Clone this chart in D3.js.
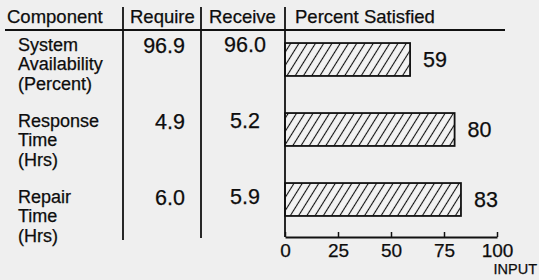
<!DOCTYPE html>
<html lang="en">
<head>
    <meta charset="UTF-8">
    <title>Percent Satisfied</title>
    <script src="https://d3js.org/d3.v7.min.js"></script>
    <style>
        html, body {
            margin: 0;
            padding: 0;
            background: #efefef;
            overflow: hidden;
        }
        svg text {
            font-family: "Liberation Sans", Arial, Helvetica, sans-serif;
            fill: #0d0d0d;
            stroke: #0d0d0d;
            stroke-width: 0.25px;
        }
        .rule {
            stroke: #111;
            stroke-width: 1.8;
        }
    </style>
</head>
<body>
    <svg width="539" height="280"></svg>
    <script>
        // chart data
        const components = ["System Availability", "Response Time", "Repair Time"];
        const labelLines = [["System", "Availability", "(Percent)"], ["Response", "Time", "(Hrs)"], ["Repair", "Time", "(Hrs)"]];
        const required = ["96.9", "4.9", "6.0"];
        const received = ["96.0", "5.2", "5.9"];
        const satisfied = [59, 80, 83];
        const xTicks = [0, 25, 50, 75, 100];
        const headers = ["Component", "Require", "Receive", "Percent Satisfied"];

        const svg = d3.select("svg");

        const x = d3.scaleLinear().domain([0, 100]).range([285, 497]);
        const y = d3.scaleBand().domain(components).range([24.5, 234.5])
            .paddingInner(0.53).paddingOuter(0.265);
        // baselines for the table text rows
        const rowY = d3.scalePoint().domain(components).range([51.5, 203.5]);

        // hatch pattern
        const defs = svg.append("defs");
        const pat = defs.append("pattern")
            .attr("id", "hatch")
            .attr("patternUnits", "userSpaceOnUse")
            .attr("width", 7).attr("height", 10)
            .attr("patternTransform", "rotate(32)");
        pat.append("rect").attr("width", 7).attr("height", 10).attr("fill", "#f3f3f3");
        pat.append("line")
            .attr("x1", 3.5).attr("y1", 0).attr("x2", 3.5).attr("y2", 10)
            .attr("stroke", "#111").attr("stroke-width", 1.1);

        // header
        const headerX = [7, 130, 209, 295];
        svg.selectAll(".hdr")
            .data(headers)
            .enter().append("text")
            .attr("class", "hdr")
            .attr("x", (d, i) => headerX[i])
            .attr("y", 23)
            .attr("font-size", "18.5px")
            .text(d => d);

        svg.append("line").attr("class", "rule")
            .attr("x1", 5).attr("x2", 505).attr("y1", 30).attr("y2", 30);

        // column dividers
        svg.append("line").attr("class", "rule")
            .attr("x1", 123).attr("x2", 123).attr("y1", 7).attr("y2", 240);
        svg.append("line").attr("class", "rule")
            .attr("x1", 201).attr("x2", 201).attr("y1", 7).attr("y2", 238);

        // row labels
        const rows = svg.selectAll(".row")
            .data(components)
            .enter().append("g")
            .attr("class", "row");

        rows.each(function(c, i) {
            const g = d3.select(this);
            labelLines[i].forEach((line, j) => {
                g.append("text")
                    .attr("x", 18)
                    .attr("y", rowY(c) - 1 + j * 19.5)
                    .attr("font-size", "18px")
                    .text(line);
            });
        });

        rows.append("text")
            .attr("x", 185)
            .attr("y", c => rowY(c) + 1)
            .attr("text-anchor", "end")
            .attr("font-size", "21.5px")
            .text((c, i) => required[i]);

        rows.append("text")
            .attr("x", 245)
            .attr("y", c => rowY(c) + 0.5)
            .attr("text-anchor", "middle")
            .attr("font-size", "21.5px")
            .text((c, i) => received[i]);

        // bars
        svg.selectAll(".bar")
            .data(components)
            .enter().append("rect")
            .attr("class", "bar")
            .attr("x", x(0))
            .attr("y", c => y(c))
            .attr("width", (c, i) => x(satisfied[i]) - x(0))
            .attr("height", y.bandwidth())
            .attr("fill", "url(#hatch)")
            .attr("stroke", "#111")
            .attr("stroke-width", 1.8);

        svg.selectAll(".val")
            .data(components)
            .enter().append("text")
            .attr("class", "val")
            .attr("x", (c, i) => x(satisfied[i]) + 13)
            .attr("y", c => y(c) + y.bandwidth() / 2 + 7.5)
            .attr("font-size", "21.5px")
            .text((c, i) => satisfied[i]);

        // axis
        const axisY = 237;
        svg.append("line").attr("class", "rule")
            .attr("x1", x(0)).attr("x2", x(0)).attr("y1", 7).attr("y2", axisY);

        const axis = svg.append("g")
            .attr("transform", `translate(0,${axisY})`)
            .call(d3.axisBottom(x).tickValues(xTicks).tickSize(-5).tickPadding(10).tickSizeOuter(0));
        axis.select(".domain").attr("stroke", "#111").attr("stroke-width", 1.8);
        axis.selectAll(".tick line").attr("stroke", "#111").attr("stroke-width", 1.5);
        axis.selectAll(".tick text")
            .attr("font-size", "19px")
            .attr("font-family", "Liberation Sans, Arial, sans-serif")
            .attr("y", 19.5)
            .attr("dy", 0);

        svg.append("text")
            .attr("x", 537)
            .attr("y", 274)
            .attr("text-anchor", "end")
            .attr("font-size", "14.5px")
            .text("INPUT");
    </script>
</body>
</html>
